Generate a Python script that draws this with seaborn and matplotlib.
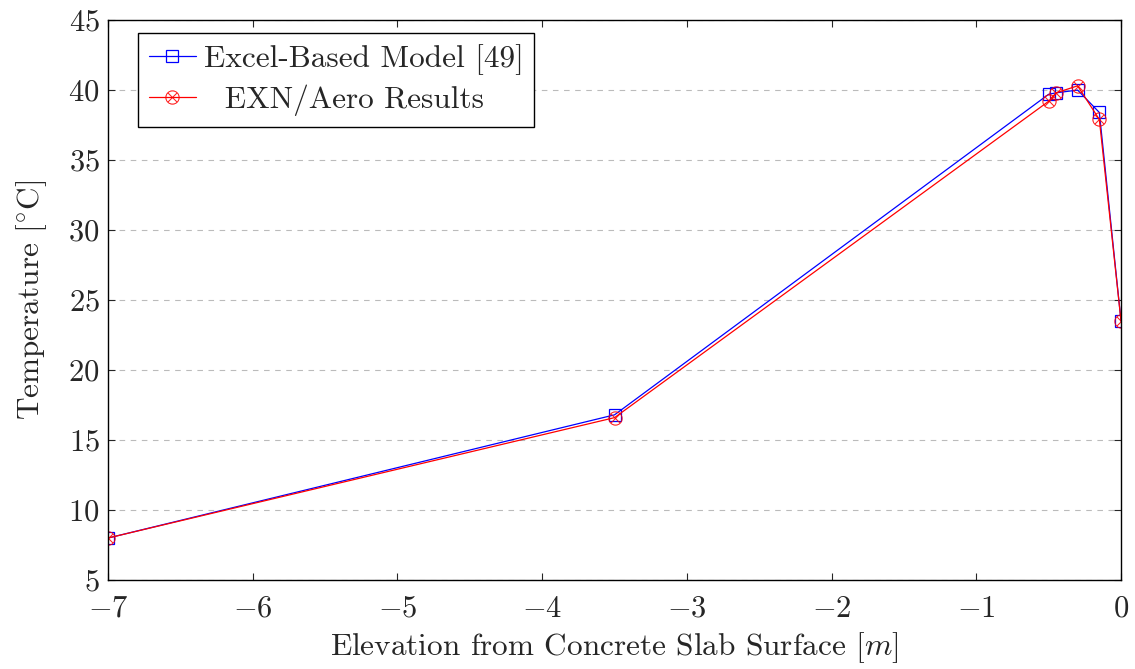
import numpy as np
import pandas as pd
import seaborn as sns
import matplotlib.pyplot as plt

# elevation [m] and temperature [C]
elev = [-7.0, -3.5, -0.5, -0.45, -0.3, -0.15, 0.0]
excel_temp = [8.0, 16.8, 39.7, 39.8, 40.0, 38.4, 23.5]
exn_temp = [8.0, 16.6, 39.2, 39.8, 40.3, 37.9, 23.5]

sns.set_style("ticks")
plt.rcParams['font.family'] = ['cmr10', 'DejaVu Serif']
plt.rcParams['mathtext.fontset'] = 'cm'
plt.rcParams['axes.formatter.use_mathtext'] = True
plt.rcParams['axes.unicode_minus'] = True

fig = plt.figure(figsize=(11.35, 6.69), dpi=100)
ax = fig.add_axes([0.0952, 0.133, 0.8925, 0.837])

df = pd.DataFrame({"elev": elev, "excel": excel_temp, "exn": exn_temp})
sns.lineplot(data=df, x="elev", y="excel", ax=ax, color="blue", lw=0.9,
             marker="s", markersize=9, markerfacecolor="none",
             markeredgecolor="blue", markeredgewidth=0.9,
             label="Excel-Based Model [49]")
sns.lineplot(data=df, x="elev", y="exn", ax=ax, color="red", lw=0.9,
             marker=r"$\otimes$", markersize=10, markeredgewidth=0.2,
             markerfacecolor="red", markeredgecolor="red",
             label="  EXN/Aero Results")

ax.set_xlim(-7, 0)
ax.set_ylim(5, 45)
ax.set_yticks(np.arange(5, 46, 5))
ax.set_xticks(np.arange(-7, 1, 1))
ax.grid(axis="y", color="#bbbbbb", ls=(0, (5, 5)), lw=0.8)
ax.tick_params(direction="in", top=True, right=True, labelsize=22, length=5,
               width=0.8, pad=6)
ax.tick_params(axis="x", pad=11)
for s in ax.spines.values():
    s.set_linewidth(1.0)
    s.set_color("black")

ax.set_xlabel(r"Elevation from Concrete Slab Surface [$m$]", fontsize=22.5,
              labelpad=5)
ax.set_ylabel(r"Temperature [$^{\circ}$C]", fontsize=22.5, labelpad=14)

leg = ax.legend(loc="upper left", bbox_to_anchor=(0.0296, 0.9768),
                borderaxespad=0, fontsize=22.5, frameon=True, fancybox=False,
                edgecolor="black", framealpha=1,
                handlelength=1.5, handletextpad=0.25, borderpad=0.35,
                labelspacing=0.3)
leg.get_frame().set_linewidth(1.0)

fig.savefig("out.png", dpi=100)
